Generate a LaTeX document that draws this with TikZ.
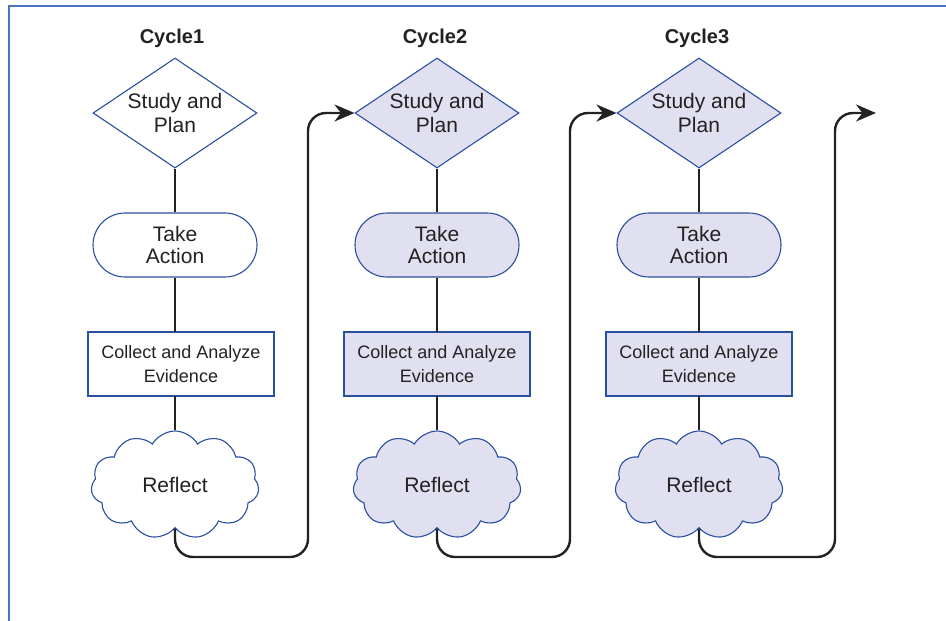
\documentclass[tikz,border=0pt]{standalone}
\usepackage{fontspec}
\setmainfont{Liberation Sans}
\usetikzlibrary{shapes.geometric,shapes.symbols,arrows.meta}
\definecolor{edgeblue}{HTML}{2A4F9E}
\definecolor{lav}{HTML}{E0E0F0}
\definecolor{framecol}{HTML}{4A74C0}
\definecolor{ink}{HTML}{222222}
\tikzset{
  base/.style={draw=edgeblue, line width=1.1pt, text=ink, align=center, inner sep=0pt},
  decide/.style={base, diamond, aspect=1.5, minimum width=164pt, minimum height=110pt, font=\fontsize{21}{24}\selectfont},
  act/.style={base, rectangle, rounded corners=32pt, minimum width=164pt, minimum height=64pt, font=\fontsize{21}{22}\selectfont},
  collect/.style={base, rectangle, minimum width=186pt, minimum height=64pt, font=\fontsize{18}{24}\selectfont},
  think/.style={base, cloud, cloud puffs=11, cloud puff arc=120, aspect=1.5, minimum width=168pt, minimum height=108pt, font=\fontsize{21}{23}\selectfont},
  white/.style={fill=white},
  shaded/.style={fill=lav},
  title/.style={font=\fontsize{20}{22}\selectfont\bfseries, text=ink},
  link/.style={draw=ink, line width=2.4pt},
  flow/.style={link, rounded corners=18pt, -{Stealth[length=20pt,width=17pt]}},
}
\begin{document}
\begin{tikzpicture}[x=1pt,y=-1pt]
\useasboundingbox (0,0) rectangle (946,621);
\draw[framecol, line width=1.2pt] (9,621) -- (9,6) -- (946,6);

% titles
\node[title] (h1) at (172,38) {Cycle1};
\node[title] (h2) at (435,38) {Cycle2};
\node[title] (h3) at (697,38) {Cycle3};

% column 1
\node[decide, white] (s1) at (175,113) {Study and\\Plan};
\node[act, white] (t1) at (175,245) {Take\\Action};
\node[collect, white] (c1) at (181,364) {Collect and Analyze\\Evidence};
\node[think, white] (r1) at (175,485) {Reflect};

% column 2
\node[decide, shaded] (s2) at (437,113) {Study and\\Plan};
\node[act, shaded] (t2) at (437,245) {Take\\Action};
\node[collect, shaded] (c2) at (437,364) {Collect and Analyze\\Evidence};
\node[think, shaded] (r2) at (437,485) {Reflect};

% column 3
\node[decide, shaded] (s3) at (699,113) {Study and\\Plan};
\node[act, shaded] (t3) at (699,245) {Take\\Action};
\node[collect, shaded] (c3) at (699,364) {Collect and Analyze\\Evidence};
\node[think, shaded] (r3) at (699,485) {Reflect};

% vertical links
\foreach \i/\x in {1/175,2/437,3/699}{
  \draw[link] (s\i.south) -- (t\i.north);
  \draw[link] (t\i.south) -- (\x,332);
  \draw[link] (\x,396) -- (r\i.north);
}

% corner coordinates
\coordinate (b1) at (308,557);
\coordinate (b2) at (570,557);
\coordinate (b3) at (835,557);
\coordinate (e3) at (876,113);

\draw[flow] (r1.south) |- (b1) |- (s2.west);
\draw[flow] (r2.south) |- (b2) |- (s3.west);
\draw[flow] (r3.south) |- (b3) |- (e3);
\end{tikzpicture}
\end{document}
